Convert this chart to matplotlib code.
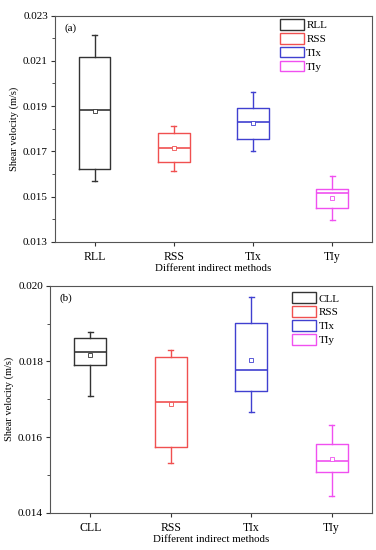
import matplotlib
matplotlib.use("Agg")
import matplotlib.pyplot as plt
from matplotlib.patches import Patch
from matplotlib.ticker import FixedLocator, FormatStrFormatter

plt.rcParams['font.family'] = ['Liberation Serif', 'DejaVu Serif']

colors = ['#333333', '#f05050', '#4040d0', '#f050f0']

# Panel (a)
cats_a = ['RLL', 'RSS', 'TIx', 'TIy']
whislo_a = [0.01568, 0.01613, 0.01703, 0.01394]
q1_a = [0.01620, 0.01651, 0.01753, 0.01449]
med_a = [0.01884, 0.01713, 0.01829, 0.01514]
mean_a = [0.01878, 0.01716, 0.01827, 0.01495]
q3_a = [0.02119, 0.01781, 0.01891, 0.01532]
whishi_a = [0.02216, 0.01812, 0.01961, 0.01589]
yticks_a = [0.013, 0.015, 0.017, 0.019, 0.021, 0.023]

# Panel (b)
cats_b = ['CLL', 'RSS', 'TIx', 'TIy']
whislo_b = [0.01708, 0.01532, 0.01667, 0.01446]
q1_b = [0.01792, 0.01573, 0.01722, 0.01508]
med_b = [0.01824, 0.01692, 0.01777, 0.01538]
mean_b = [0.01818, 0.01689, 0.01805, 0.01542]
q3_b = [0.01862, 0.01813, 0.01901, 0.01581]
whishi_b = [0.01878, 0.01830, 0.01970, 0.01631]
yticks_b = [0.014, 0.016, 0.018, 0.020]

fig = plt.figure(figsize=(3.76, 5.50), dpi=100)
ax1 = fig.add_axes([0.146, 0.5605, 0.843, 0.411])
ax2 = fig.add_axes([0.133, 0.0673, 0.856, 0.4132])


def draw(ax, cats, wl, q1, med, mean, q3, wh, ylim, yt, tag, legx, legy):
    for i in range(len(cats)):
        s = dict(label=cats[i], whislo=wl[i], q1=q1[i], med=med[i],
                 mean=mean[i], q3=q3[i], whishi=wh[i], fliers=[])
        c = colors[i]
        ax.bxp([s], positions=[i + 1], widths=0.4, showmeans=True,
               patch_artist=False, manage_ticks=False,
               boxprops=dict(color=c, linewidth=1.0),
               whiskerprops=dict(color=c, linewidth=1.0),
               capprops=dict(color=c, linewidth=1.0),
               medianprops=dict(color=c, linewidth=1.2),
               meanprops=dict(marker='s', markerfacecolor='white',
                              markeredgecolor=c, markersize=3,
                              markeredgewidth=0.6),
               capwidths=0.06)
    ax.set_xlim(0.5, 4.5)
    ax.set_ylim(*ylim)
    ax.set_xticks(range(1, len(cats) + 1))
    ax.set_xticklabels(cats, fontsize=8.5)
    ax.yaxis.set_major_locator(FixedLocator(yt))
    minors = [(yt[k] + yt[k + 1]) / 2 for k in range(len(yt) - 1)]
    ax.yaxis.set_minor_locator(FixedLocator(minors))
    ax.yaxis.set_major_formatter(FormatStrFormatter('%.3f'))
    ax.tick_params(axis='y', labelsize=8, length=3, width=0.8, color='#333333', pad=2)
    ax.tick_params(axis='y', which='minor', length=2, width=0.6, color='#333333')
    ax.tick_params(axis='x', length=3, width=0.8, color='#333333')
    for sp in ax.spines.values():
        sp.set_color('#555555')
        sp.set_linewidth(0.8)
    ax.set_xlabel('Different indirect methods', fontsize=7.8, labelpad=1)
    ax.set_ylabel('Shear velocity (m/s)', fontsize=7.5, labelpad=3)
    ax.text(0.03, 0.965, tag, transform=ax.transAxes, fontsize=8,
            va='top', ha='left')
    handles = [Patch(facecolor='white', edgecolor=colors[i], linewidth=1.0,
                     label=cats[i]) for i in range(len(cats))]
    ax.legend(handles=handles, loc='upper right', frameon=False, fontsize=8,
              handlelength=2.1, handleheight=1.1, labelspacing=0.25,
              handletextpad=0.25, borderaxespad=0.2,
              bbox_to_anchor=(legx, legy))


draw(ax1, cats_a, whislo_a, q1_a, med_a, mean_a, q3_a, whishi_a,
     (0.013, 0.023), yticks_a, '(a)', 0.88, 1.015)
draw(ax2, cats_b, whislo_b, q1_b, med_b, mean_b, q3_b, whishi_b,
     (0.014, 0.020), yticks_b, '(b)', 0.92, 1.0)

fig.savefig('out.png', dpi=100)
